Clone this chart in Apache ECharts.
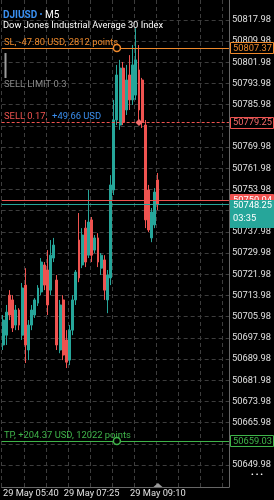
<!DOCTYPE html>
<html>
<head>
<meta charset="utf-8">
<script src="https://cdn.jsdelivr.net/npm/echarts@6.0.0/dist/echarts.min.js"></script>
<style>
html,body{margin:0;padding:0;background:#000;overflow:hidden;}
#chart{width:274px;height:500px;}
</style>
</head>
<body>
<div id="chart"></div>
<script>
// ---- data (M5 bars, 29 May) ----
const firstBar = '05:05';
const futureSlots = 22;
const openP  = [50695.3,50699.0,50714.1,50712.3,50702.8,50708.5,50699.0,50717.9,50693.4,50702.8,
                50706.6,50711.1,50715.3,50725.5,50723.6,50716.0,50728.1,50719.8,50693.4,50712.3,
                50697.2,50689.6,50700.9,50712.3,50734.9,50725.5,50739.4,50729.2,50742.5,50731.1,
                50735.7,50724.3,50727.4,50712.3,50720.6,50753.8,50780.2,50778.3,50799.8,50784.0,
                50797.2,50787.8,50789.6,50799.1,50795.3,50778.3,50753.8,50735.7,50740.6,50757.6];
const closeP = [50704.7,50707.7,50706.6,50701.7,50708.5,50702.8,50716.8,50695.3,50702.8,50708.5,
                50712.3,50716.8,50726.6,50717.9,50710.4,50729.2,50733.0,50695.3,50710.4,50691.5,
                50688.8,50700.9,50712.3,50722.8,50720.6,50736.8,50726.6,50741.7,50729.2,50735.7,
                50726.6,50729.2,50716.0,50721.7,50755.7,50780.2,50797.2,50799.8,50779.4,50795.3,
                50787.8,50801.0,50802.9,50784.0,50779.4,50742.5,50738.7,50745.5,50753.0,50748.25];
const lowP   = [50693.4,50695.3,50704.7,50700.2,50700.9,50700.9,50697.2,50688.5,50689.6,50700.9,
                50705.5,50710.0,50714.1,50716.0,50706.6,50714.1,50726.6,50693.4,50692.2,50689.6,
                50686.6,50687.7,50699.0,50710.4,50719.0,50724.3,50724.7,50728.1,50726.6,50730.0,
                50724.7,50721.7,50712.3,50707.3,50717.9,50751.9,50778.3,50776.5,50778.3,50782.1,
                50784.0,50785.9,50787.8,50778.3,50777.2,50739.4,50737.9,50734.1,50739.4,50746.2];
const highP  = [50706.6,50710.4,50716.0,50714.1,50710.4,50709.2,50718.7,50724.3,50704.7,50710.4,
                50713.0,50717.9,50728.1,50726.6,50731.1,50734.9,50735.7,50721.7,50712.3,50714.1,
                50700.9,50702.8,50714.1,50723.6,50745.1,50739.4,50742.5,50753.8,50743.6,50736.8,
                50737.5,50730.0,50729.2,50723.6,50759.4,50787.8,50801.0,50802.9,50802.1,50801.0,
                50804.7,50808.5,50814.9,50808.5,50796.1,50780.2,50755.7,50747.0,50754.5,50760.2];
const priceTicks = [50649.98,50657.98,50665.98,50673.98,50681.98,50689.98,50697.98,50705.98,
                    50713.98,50721.98,50729.98,50737.98,50745.98,50753.98,50761.98,50769.98,
                    50777.98,50785.98,50793.98,50801.98,50809.98,50817.98];
const timeTickLabels = ['05:40','07:25','09:10'];
const slPrice = 50807.37;
const sellPrice = 50779.25;
const sellLimitPrice = 50791.4;
const askPrice = 50750.04;
const bidPrice = 50748.25;
const tpPrice = 50659.03;
const yMin = 50641.7, yMax = 50825.5;

// ---- build categories ----
const cats = [];
{
  let [h, m] = firstBar.split(':').map(Number);
  for (let i = 0; i < openP.length + futureSlots; i++) {
    cats.push(String(h).padStart(2,'0') + ':' + String(m).padStart(2,'0'));
    m += 5; if (m >= 60) { m -= 60; h += 1; }
  }
}
const candles = openP.map((o, i) => [o, closeP[i], lowP[i], highP[i]]);

const F = 'Roboto';
const FT = '9.4px ' + F;
const FA = '9.3px ' + F;
const BULL = '#26a69a', BEAR = '#ef5350';
const ORANGE = '#f08a2c', GREEN = '#3fb54a', BLUE = '#3a8ff0', GRAYT = '#8a8a8a';
const GRID = '#3d3d3d';

const chart = echarts.init(document.getElementById('chart'), null, {width:274, height:500});
chart.setOption({
  backgroundColor: '#000',
  animation: false,
  grid: {left: 0, right: 45, top: 0, bottom: 13},
  xAxis: {
    type: 'category', data: cats, boundaryGap: true,
    axisLine: {show: true, lineStyle: {color: '#666', width: 1}},
    axisTick: {show: false},
    axisLabel: {
      interval: (i, v) => timeTickLabels.includes(v),
      formatter: (v) => v === timeTickLabels[0] ? '{f|29 May ' + v + '}' : '29 May ' + v,
      rich: {f: {padding: [0,0,0,11], color: '#e0e0e0', fontSize: 9.3, fontFamily: F}},
      color: '#e0e0e0', fontSize: 9.3, fontFamily: F, margin: 2
    },
    splitLine: {show: true, interval: 6, lineStyle: {color: GRID, type: [4,3], width: 1}}
  },
  yAxis: {
    type: 'value', position: 'right', min: yMin, max: yMax,
    axisLine: {show: true, lineStyle: {color: '#666', width: 1}},
    axisTick: {show: false, customValues: priceTicks},
    axisLabel: {customValues: priceTicks, formatter: v => v.toFixed(2), color: '#e0e0e0', fontSize: 9.3, fontFamily: F, margin: 3},
    splitLine: {show: true, lineStyle: {color: GRID, type: [4,3], width: 1}}
  },
  series: [{
    type: 'candlestick', data: candles, barWidth: 2.4,
    itemStyle: {color: BULL, color0: BEAR, borderColor: BULL, borderColor0: BEAR, borderWidth: 1},
    markLine: {
      silent: true, symbol: ['none','none'], animation: false,
      label: {show: false},
      data: [
        {yAxis: slPrice, lineStyle: {color: ORANGE, type: 'solid', width: 1}},
        {yAxis: sellPrice, lineStyle: {color: BEAR, type: [3,2], width: 1}},
        {yAxis: askPrice, lineStyle: {color: BEAR, type: 'solid', width: 1}},
        {yAxis: bidPrice, lineStyle: {color: BULL, type: 'solid', width: 1}},
        {yAxis: tpPrice, lineStyle: {color: GREEN, type: 'solid', width: 1}}
      ]
    },
    markPoint: {
      silent: true, animation: false, label: {show: false},
      data: [
        {coord: [cats[36], slPrice], symbol: 'circle', symbolSize: 7, itemStyle: {color: '#000', borderColor: ORANGE, borderWidth: 1.5}},
        {coord: [cats[36], tpPrice], symbol: 'circle', symbolSize: 7, itemStyle: {color: '#000', borderColor: GREEN, borderWidth: 1.5}},
        {coord: [cats[43], sellPrice], symbol: 'diamond', symbolSize: 7, itemStyle: {color: '#f46a6a'}}
      ]
    }
  }]
});

// ---- annotations positioned through the axes ----
const yPx = v => chart.convertToPixel({yAxisIndex: 0}, v);
const xPx = i => chart.convertToPixel({xAxisIndex: 0}, i);
const BX = 230, BW = 44;
function box(price, text, stroke, fill, color) {
  const y = yPx(price);
  return [
    {type: 'rect', z: 100, shape: {x: BX + 0.5, y: Math.round(y) - 5.5, width: BW - 1, height: 11}, style: {fill: fill, stroke: stroke, lineWidth: 1}},
    {type: 'text', z: 101, x: BX + 3, y: y + 0.5, style: {text: text, fill: color, font: FA, verticalAlign: 'middle'}}
  ];
}
function leftText(price, text, color) {
  return {type: 'text', z: 100, x: 4, y: yPx(price) - 5.5, style: {text: text, fill: color, font: FT, verticalAlign: 'middle'}};
}
const g = [];
// header
g.push({type: 'text', z: 100, x: 3, y: 15, style: {
  text: '{a|DJIUSD} {d|•} {b|M5}', font: FT, verticalAlign: 'middle',
  rich: {a: {fill: BLUE, font: 'bold 10px ' + F}, d: {fill: BLUE, font: '9px ' + F}, b: {fill: '#ffffff', font: '10px ' + F}}}});
g.push({type: 'text', z: 100, x: 3, y: 26, style: {text: 'Dow Jones Industrial Average 30 Index', fill: '#ffffff', font: '9.3px ' + F, verticalAlign: 'middle'}});
g.push(leftText(slPrice, 'SL, -47.80 USD, 2812 points', ORANGE));
// pending order handle + label
g.push({type: 'rect', z: 100, shape: {x: 4.5, y: yPx(slPrice) + 5, width: 2, height: 25}, style: {fill: '#9c9c9c'}});
g.push(leftText(sellLimitPrice, 'SELL LIMIT 0.3', GRAYT));
g.push({type: 'text', z: 100, x: 4, y: yPx(sellPrice) - 5.5, style: {
  text: '{r|SELL 0.17,}  {b|+49.66 USD}', font: FT, verticalAlign: 'middle',
  rich: {r: {fill: BEAR, font: FT}, b: {fill: BLUE, font: FT}}}});
g.push(leftText(tpPrice, 'TP, +204.37 USD, 12022 points', GREEN));
g.push(...box(slPrice, slPrice.toFixed(2), ORANGE, '#000', ORANGE));
g.push(...box(sellPrice, sellPrice.toFixed(2), BEAR, '#000', '#f46a6a'));
g.push(...box(askPrice, askPrice.toFixed(2), BEAR, BEAR, '#ffffff'));
{
  const y = yPx(bidPrice);
  g.push({type: 'rect', z: 102, shape: {x: BX, y: Math.round(y) - 5, width: BW, height: 28}, style: {fill: BULL}});
  g.push({type: 'text', z: 103, x: BX + 3, y: y + 1, style: {text: bidPrice.toFixed(2), fill: '#fff', font: FA, verticalAlign: 'middle'}});
  g.push({type: 'text', z: 103, x: BX + 3, y: y + 14, style: {text: '03:35', fill: '#fff', font: FA, verticalAlign: 'middle'}});
}
g.push(...box(tpPrice, tpPrice.toFixed(2), GREEN, '#000', GREEN));
// chart-shift marker at last bar
{
  const lx = xPx(openP.length - 1);
  const by = yPx(yMin);
  g.push({type: 'polygon', z: 100, shape: {points: [[lx - 4.5, by], [lx + 4.5, by], [lx, by - 4]]}, style: {fill: '#9a9a9a'}});
}
g.push({type: 'text', z: 100, x: 257, y: 475, style: {text: '• • •', fill: '#ffffff', font: '8px ' + F, align: 'center', verticalAlign: 'middle'}});
chart.setOption({graphic: g});
</script>
</body>
</html>
